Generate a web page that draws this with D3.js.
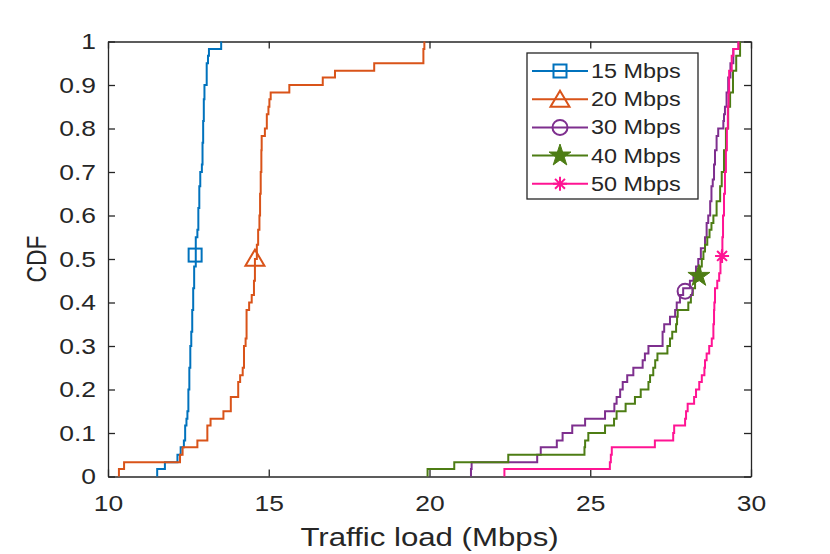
<!DOCTYPE html>
<html>
<head>
<meta charset="utf-8">
<script src="https://cdn.jsdelivr.net/npm/d3@7"></script>
<style>
  body { margin: 0; background: #fff; }
  text { font-family: "Liberation Sans", Arial, Helvetica, sans-serif; fill: #262626; }
</style>
</head>
<body>
<div id="chart-area"></div>
<script>
// series names + colours
const seriesNames = ["15 Mbps", "20 Mbps", "30 Mbps", "40 Mbps", "50 Mbps"]
const seriesColors = ["#0072BD", "#D95319", "#7E2F8E", "#4d7d14", "#ff1493"]
const seriesMarkers = ["square", "triangle", "circle", "star", "asterisk"]

// step points of each CDF: load (Mbps) where the level starts, and the level
const load15 = [11.53, 11.53, 11.77, 12.16, 12.26, 12.36, 12.40, 12.44, 12.47, 12.50, 12.53, 12.56, 12.59, 12.62, 12.65, 12.68, 12.73, 12.78, 12.81, 12.84, 12.87, 12.92, 12.94, 12.96, 12.98, 13.00, 13.07, 13.11, 13.14, 13.52]
const cdf15 = [0, 0.017, 0.033, 0.05, 0.067, 0.083, 0.117, 0.133, 0.15, 0.2, 0.25, 0.3, 0.333, 0.383, 0.433, 0.483, 0.55, 0.567, 0.617, 0.667, 0.7, 0.717, 0.767, 0.817, 0.867, 0.9, 0.95, 0.967, 0.983, 1.0]

const load20 = [10.34, 10.34, 10.50, 12.24, 12.32, 12.78, 13.09, 13.19, 13.59, 13.82, 14.05, 14.11, 14.19, 14.23, 14.28, 14.31, 14.39, 14.47, 14.54, 14.57, 14.63, 14.67, 14.71, 14.73, 14.75, 14.77, 14.78, 14.88, 14.94, 14.99, 15.02, 15.06, 15.64, 16.68, 17.06, 18.28, 19.81, 19.84]
const cdf20 = [0, 0.017, 0.033, 0.05, 0.067, 0.083, 0.117, 0.133, 0.15, 0.183, 0.217, 0.233, 0.25, 0.3, 0.317, 0.383, 0.4, 0.417, 0.45, 0.5, 0.533, 0.567, 0.6, 0.65, 0.7, 0.75, 0.783, 0.8, 0.833, 0.85, 0.867, 0.883, 0.9, 0.917, 0.933, 0.95, 0.983, 1.0]

const load30 = [21.29, 21.29, 21.31, 23.35, 23.46, 23.96, 24.14, 24.44, 24.84, 25.46, 25.75, 25.82, 25.93, 26.01, 26.15, 26.34, 26.63, 26.70, 26.81, 27.25, 27.30, 27.48, 27.64, 27.69, 27.79, 27.89, 28.10, 28.21, 28.29, 28.36, 28.44, 28.57, 28.62, 28.67, 28.73, 28.77, 28.81, 28.85, 28.88, 28.93, 28.98, 29.14, 29.16, 29.19, 29.24, 29.29, 29.36, 29.45, 29.61]
const cdf30 = [0, 0.017, 0.033, 0.05, 0.067, 0.083, 0.1, 0.117, 0.133, 0.15, 0.167, 0.183, 0.2, 0.217, 0.233, 0.25, 0.267, 0.283, 0.3, 0.333, 0.35, 0.367, 0.383, 0.4, 0.417, 0.433, 0.45, 0.467, 0.483, 0.5, 0.525, 0.55, 0.583, 0.6, 0.633, 0.667, 0.683, 0.717, 0.75, 0.783, 0.8, 0.817, 0.833, 0.85, 0.883, 0.917, 0.95, 0.983, 1.0]

const load40 = [19.94, 19.94, 20.77, 22.45, 24.82, 24.84, 24.94, 25.46, 25.74, 25.82, 26.10, 26.39, 26.57, 26.81, 26.86, 26.96, 27.02, 27.09, 27.40, 27.48, 27.55, 27.67, 27.70, 27.72, 28.05, 28.13, 28.19, 28.26, 28.34, 28.42, 28.47, 28.52, 28.57, 28.64, 28.71, 28.77, 28.83, 28.93, 29.04, 29.09, 29.16, 29.22, 29.29, 29.35, 29.44, 29.54, 29.66]
const cdf40 = [0, 0.017, 0.033, 0.05, 0.067, 0.083, 0.1, 0.117, 0.133, 0.15, 0.167, 0.183, 0.2, 0.217, 0.233, 0.25, 0.267, 0.283, 0.3, 0.317, 0.333, 0.35, 0.367, 0.383, 0.4, 0.417, 0.433, 0.45, 0.467, 0.483, 0.5, 0.517, 0.533, 0.55, 0.567, 0.583, 0.6, 0.633, 0.667, 0.7, 0.75, 0.8, 0.85, 0.883, 0.933, 0.967, 1.0]

const load50 = [22.33, 22.33, 25.61, 25.64, 25.67, 27.01, 27.58, 27.61, 27.95, 27.98, 28.03, 28.23, 28.29, 28.39, 28.47, 28.55, 28.57, 28.62, 28.70, 28.78, 28.83, 28.85, 28.86, 28.88, 28.95, 29.01, 29.05, 29.09, 29.11, 29.13, 29.16, 29.19, 29.22, 29.25, 29.28, 29.30, 29.32, 29.40, 29.45, 29.61]
const cdf50 = [0, 0.017, 0.033, 0.05, 0.067, 0.083, 0.1, 0.117, 0.133, 0.15, 0.167, 0.183, 0.2, 0.217, 0.233, 0.25, 0.267, 0.283, 0.3, 0.317, 0.35, 0.383, 0.4, 0.433, 0.45, 0.467, 0.5, 0.517, 0.55, 0.6, 0.65, 0.7, 0.75, 0.8, 0.85, 0.883, 0.933, 0.967, 0.983, 1.0]

// one marker per curve
const markerLoad = [12.71, 14.57, 27.95, 28.38, 29.10]
const markerCdf = [0.509, 0.502, 0.426, 0.461, 0.507]

const xTicks = [10, 15, 20, 25, 30]
const yTicks = [0, 0.1, 0.2, 0.3, 0.4, 0.5, 0.6, 0.7, 0.8, 0.9, 1]

const loads = [load15, load20, load30, load40, load50]
const cdfs = [cdf15, cdf20, cdf30, cdf40, cdf50]

const margin = {left: 108, right: 79, top: 41.5, bottom: 77.5}
const width = 830 - margin.left - margin.right
const height = 554 - margin.top - margin.bottom
const axisColor = "#262626"
const SX = 1.2   // text in the source is drawn a bit wide

const svg = d3.select("#chart-area").append("svg")
    .attr("width", 830)
    .attr("height", 554)
    .style("background", "#fff")

const g = svg.append("g")
    .attr("transform", `translate(${margin.left}, ${margin.top})`)

const x = d3.scaleLinear().domain([10, 30]).range([0, width])
const y = d3.scaleLinear().domain([0, 1]).range([height, 0])

function styleAxis(sel) {
    sel.attr("font-family", null).attr("font-size", null)
    sel.select(".domain").attr("stroke", axisColor).attr("stroke-width", 1.3)
    sel.selectAll(".tick line").attr("stroke", axisColor).attr("stroke-width", 1.3)
    sel.selectAll(".tick text").attr("fill", axisColor).style("font-size", "22px")
}

// axes, ticks inside on all four sides
g.append("g")
    .attr("transform", `translate(0, ${height})`)
    .call(d3.axisBottom(x).tickValues(xTicks).tickSize(-7).tickSizeOuter(0).tickPadding(19))
    .call(styleAxis)
    .selectAll(".tick text").attr("transform", `scale(${SX},1)`)

g.append("g")
    .call(d3.axisLeft(y).tickValues(yTicks).tickSize(-7).tickSizeOuter(0).tickPadding(10).tickFormat(d3.format("")))
    .call(styleAxis)
    .selectAll(".tick text").attr("transform", `scale(${SX},1)`)

g.append("g")
    .call(d3.axisTop(x).tickValues(xTicks).tickSize(-7).tickSizeOuter(0).tickFormat(""))
    .call(styleAxis)

g.append("g")
    .attr("transform", `translate(${width}, 0)`)
    .call(d3.axisRight(y).tickValues(yTicks).tickSize(-7).tickSizeOuter(0).tickFormat(""))
    .call(styleAxis)

// CDF curves
const line = d3.line()
    .x(d => x(d[0]))
    .y(d => y(d[1]))
    .curve(d3.curveStepAfter)

loads.forEach((ld, i) => {
    const pts = ld.map((v, j) => [v, cdfs[i][j]])
    g.append("path")
        .attr("d", line(pts))
        .attr("fill", "none")
        .attr("stroke", seriesColors[i])
        .attr("stroke-width", 2)
})

function drawMarker(parent, kind, cx, cy, color) {
    const m = parent.append("g").attr("transform", `translate(${cx}, ${cy})`)
    if (kind === "square") {
        m.append("rect").attr("x", -6.5).attr("y", -6.5).attr("width", 13).attr("height", 13)
            .attr("fill", "none").attr("stroke", color).attr("stroke-width", 2)
    } else if (kind === "triangle") {
        m.append("path").attr("d", "M0,-8.5L9.5,7.5L-9.5,7.5Z")
            .attr("fill", "none").attr("stroke", color).attr("stroke-width", 2)
    } else if (kind === "circle") {
        m.append("circle").attr("r", 7.5)
            .attr("fill", "none").attr("stroke", color).attr("stroke-width", 2)
    } else if (kind === "star") {
        m.append("path").attr("d", d3.symbol(d3.symbolStar, 150)())
            .attr("fill", color).attr("stroke", color).attr("stroke-width", 1)
    } else {
        const r = 7
        const k = r * Math.SQRT1_2
        m.append("path")
            .attr("d", `M${-r},0L${r},0M0,${-r}L0,${r}M${-k},${-k}L${k},${k}M${-k},${k}L${k},${-k}`)
            .attr("fill", "none").attr("stroke", color).attr("stroke-width", 2)
    }
}

markerLoad.forEach((v, i) => {
    drawMarker(g, seriesMarkers[i], x(v), y(markerCdf[i]), seriesColors[i])
})

// Legend
const legend = svg.append("g").attr("transform", "translate(527, 53)")
legend.append("rect")
    .attr("width", 171)
    .attr("height", 146)
    .attr("fill", "#fff")
    .attr("stroke", axisColor)
    .attr("stroke-width", 1.3)

seriesNames.forEach((name, i) => {
    const ry = 18 + i * 28.2
    legend.append("line")
        .attr("x1", 5).attr("x2", 61)
        .attr("y1", ry).attr("y2", ry)
        .attr("stroke", seriesColors[i])
        .attr("stroke-width", 2)
    drawMarker(legend, seriesMarkers[i], 33, ry, seriesColors[i])
    legend.append("text")
        .attr("transform", `translate(64, ${ry + 7}) scale(${SX},1)`)
        .style("font-size", "19.5px")
        .text(name)
})

// X Label
svg.append("text")
    .attr("transform", `translate(${margin.left + width / 2}, 546) scale(${SX},1)`)
    .attr("text-anchor", "middle")
    .style("font-size", "26px")
    .text("Traffic load (Mbps)")

// Y Label
svg.append("text")
    .attr("transform", `translate(46, ${margin.top + height / 2}) scale(${SX},1) rotate(-90)`)
    .attr("text-anchor", "middle")
    .style("font-size", "23px")
    .text("CDF")
</script>
</body>
</html>
